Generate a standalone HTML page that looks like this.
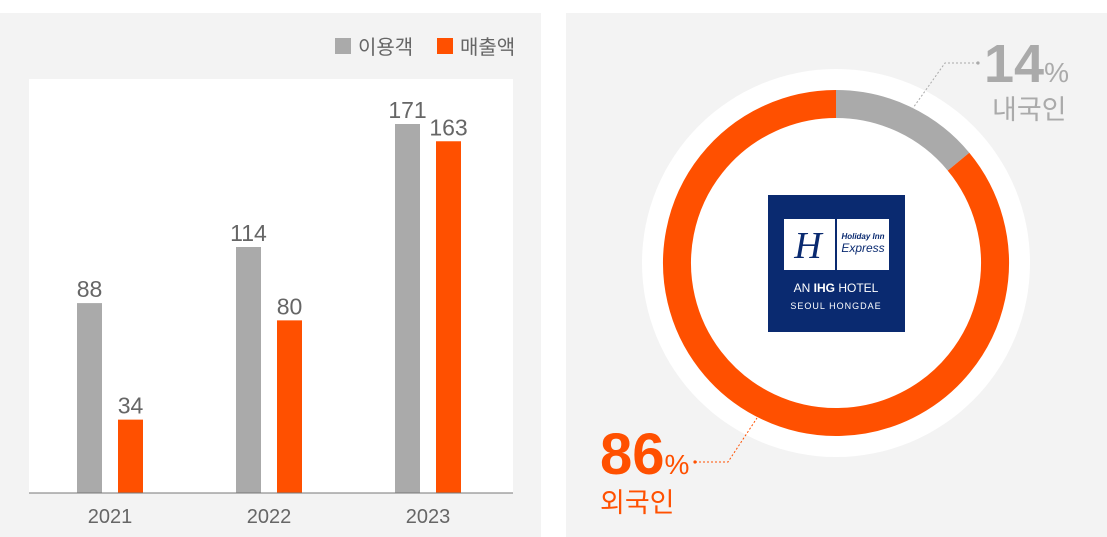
<!DOCTYPE html>
<html><head><meta charset="utf-8"><style>
body{margin:0;width:1107px;height:537px;background:#fff;overflow:hidden;font-family:"Liberation Sans","Noto Sans CJK KR",sans-serif}
svg{position:absolute;left:0;top:0}
</style></head><body>
<svg width="1107" height="537">
<rect x="0" y="13" width="541" height="524" fill="#f3f3f3"/>
<rect x="29" y="79" width="484" height="414" fill="#fff"/>
<g id="bars"></g>
<line x1="29" y1="493" x2="513" y2="493" stroke="#777" stroke-width="1"/>
<g>
<rect x="335" y="38" width="16" height="16" fill="#aaa"/>
<text x="358" y="54" font-size="20" fill="#666">이용객</text>
<rect x="437" y="38" width="16" height="16" fill="#ff5000"/>
<text x="460" y="54" font-size="20" fill="#666">매출액</text>
</g>
<rect x="566" y="13" width="541" height="524" fill="#f3f3f3"/>
<circle cx="836" cy="263" r="194" fill="#fff"/>
<g id="donut"></g>
<rect x="768" y="195" width="137" height="137" fill="#0a2a70"/>
<rect x="784" y="219" width="51" height="51" fill="#fff"/>
<rect x="837" y="219" width="52" height="51" fill="#fff"/>
<text x="808" y="258" font-size="38" font-style="italic" fill="#0a2a70" text-anchor="middle" font-family="Liberation Serif,serif">H</text>
<text x="863" y="239" font-size="8" font-style="italic" font-weight="bold" fill="#0a2a70" text-anchor="middle">Holiday Inn</text>
<text x="863" y="252" font-size="12" font-style="italic" fill="#0a2a70" text-anchor="middle">Express</text>
<text x="836" y="292" font-size="12" fill="#fff" text-anchor="middle">AN <tspan font-weight="bold">IHG</tspan> HOTEL</text>
<text x="836" y="309" font-size="9" fill="#fff" text-anchor="middle" letter-spacing="1">SEOUL HONGDAE</text>
<polyline points="978,63 945,63 913,108" fill="none" stroke="#aaa" stroke-dasharray="2,2"/>
<circle cx="978" cy="63" r="1.6" fill="#aaa"/>
<text x="984" y="82" fill="#aaa" font-weight="bold" font-size="54">14<tspan font-size="28" font-weight="normal">%</tspan></text>
<text x="992" y="119" fill="#aaa" font-size="27">내국인</text>
<polyline points="695,462 728,462 757,418" fill="none" stroke="#ff5000" stroke-dasharray="2,2"/>
<circle cx="695" cy="462" r="1.6" fill="#ff5000"/>
<text x="600" y="474" fill="#ff5000" font-weight="bold" font-size="58">86<tspan font-size="28" font-weight="normal">%</tspan></text>
<text x="600" y="512" fill="#ff5000" font-size="27">외국인</text>
</svg>
<script>
const years=["2021","2022","2023"];
const visitors=[88,114,171];
const revenue=[34,80,163];
const shares=[14,86];
const NS="http://www.w3.org/2000/svg";
const base=493, scale=369/171;
const y=v=>base-v*scale;
const cx=i=>110+i*159;
const g=document.getElementById('bars');
function mk(t,a){const e=document.createElementNS(NS,t);for(const k in a)e.setAttribute(k,a[k]);return e;}
years.forEach((yr,i)=>{
  [[visitors,-33,"#aaa","visitors"],[revenue,8,"#ff5000","revenue"]].forEach(([arr,off,col,nm])=>{
    const v=arr[i];
    const r=mk('rect',{x:cx(i)+off,y:y(v),width:25,height:base-y(v),fill:col});
    
    
    g.appendChild(r);
    const t=mk('text',{x:cx(i)+off+12.5,y:y(v)-6,'font-size':23,fill:'#666','text-anchor':'middle'});
    t.textContent=v;
    
    
    g.appendChild(t);
  });
  const t=mk('text',{x:cx(i),y:523,'font-size':20,fill:'#666','text-anchor':'middle'});
  t.textContent=yr;
  
  
  g.appendChild(t);
});
const d=document.getElementById('donut');
const C={x:836,y:263},R=159;
let a0=0;const cols=["#aaa","#ff5000"],nms=["domestic","foreign"];
shares.forEach((s,i)=>{
  const a1=a0+s/100*2*Math.PI;
  const p=a=>[C.x+R*Math.sin(a),C.y-R*Math.cos(a)];
  const [x0,y0]=p(a0),[x1,y1]=p(a1);
  const path=mk('path',{d:`M${x0},${y0} A${R},${R} 0 ${a1-a0>Math.PI?1:0} 1 ${x1},${y1}`,fill:'none',stroke:cols[i],'stroke-width':28});
  
  
  d.appendChild(path);
  a0=a1;
});
</script>
</body></html>
